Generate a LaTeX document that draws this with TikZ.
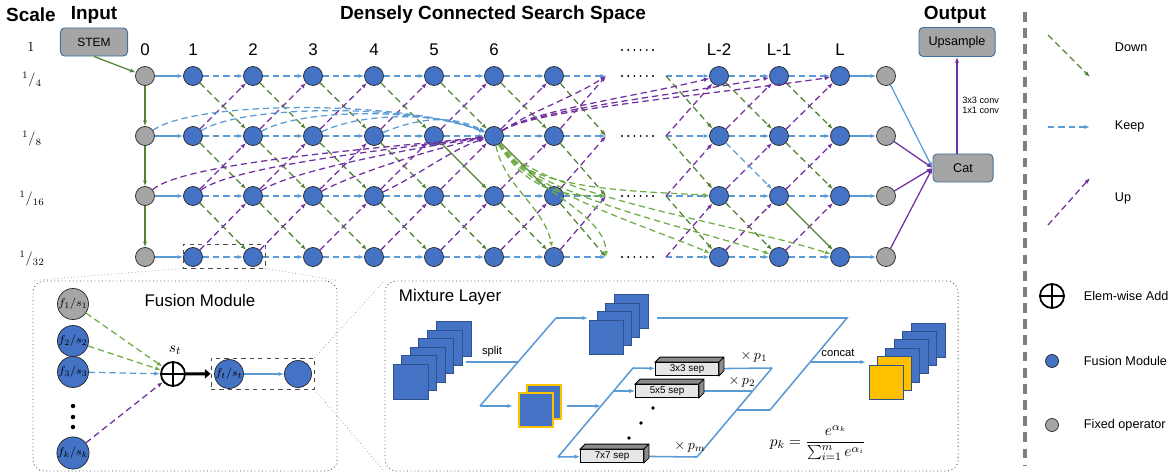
\documentclass[tikz,border=0pt]{standalone}
\usepackage{fontspec}
\setmainfont{Liberation Sans}
\usetikzlibrary{arrows.meta}

\definecolor{fmblue}{HTML}{4472C4}
\definecolor{fmedge}{HTML}{2F528F}
\definecolor{fxgray}{HTML}{A5A5A5}
\definecolor{kblue}{HTML}{5B9BD5}
\definecolor{dgreen}{HTML}{548235}
\definecolor{lgreen}{HTML}{70AD47}
\definecolor{upurple}{HTML}{7030A0}
\definecolor{fyellow}{HTML}{FFC000}
\definecolor{boxedge}{HTML}{41719C}
\definecolor{sepgray}{HTML}{E7E6E6}

\tikzset{
  fm/.style={circle, draw=black!85, line width=0.5pt, fill=fmblue, minimum size=0.475cm, inner sep=0pt},
  fx/.style={fm, fill=fxgray},
  fbig/.style={minimum size=0.675cm, font=\fontsize{8}{9}\selectfont},
  link/.style={->, line width=0.9pt},
  keep/.style={link, kblue, dash pattern=on 4.5pt off 2.8pt},
  down/.style={link, dgreen, dash pattern=on 4.5pt off 2.8pt},
  up/.style={link, upurple, dash pattern=on 4.5pt off 2.8pt},
  dense/.style={link, lgreen, dash pattern=on 4.5pt off 2.8pt},
  opbox/.style={rectangle, rounded corners=3pt, draw=boxedge, line width=0.7pt, fill=fxgray, font=\fontsize{9}{10}\selectfont},
  title/.style={font=\fontsize{13.5}{15}\selectfont\bfseries},
  collabel/.style={font=\fontsize{12}{13}\selectfont},
  scalelabel/.style={font=\fontsize{10}{11}\selectfont},
  legendtext/.style={anchor=west, font=\fontsize{9}{10}\selectfont},
  smalltext/.style={text=black, font=\fontsize{8}{9}\selectfont},
  panel/.style={draw=black!70, dotted, rounded corners=8pt, line width=0.6pt},
  zoombox/.style={draw=black!70, dashed, line width=0.6pt},
  oplus/.style={circle, draw, line width=1.3pt, minimum size=0.6cm, inner sep=0pt,
    path picture={\draw[line width=1.3pt] (path picture bounding box.north) -- (path picture bounding box.south)
      (path picture bounding box.west) -- (path picture bounding box.east);}},
  fmap/.style={draw=fmedge, fill=fmblue, line width=0.6pt},
  sepbox/.style={draw, fill=sepgray, line width=0.6pt, minimum width=1.575cm, minimum height=0.325cm, inner sep=0pt, font=\fontsize{7}{8}\selectfont},
  mline/.style={kblue, line width=1.1pt},
  >={Latex[length=4pt,width=3pt]}
}

\begin{document}
\begin{tikzpicture}[x=0.025cm, y=-0.025cm]
\useasboundingbox (0,0) rectangle (1170,473);

% titles
\node[title] (tscale) at (31,15) {Scale};
\node[title] (tinput) at (94,15) {Input};
\node[title] (tspace) at (493,15) {Densely Connected Search Space};
\node[title] (toutput) at (955,15) {Output};

% scale column
\node[scalelabel] (sc0) at (31,47) {$1$};
\node[scalelabel] (sc1) at (32,80) {$^{1}/_{4}$};
\node[scalelabel] (sc2) at (32,139) {$^{1}/_{8}$};
\node[scalelabel] (sc3) at (32,199) {$^{1}/_{16}$};
\node[scalelabel] (sc4) at (32,259) {$^{1}/_{32}$};

\node[opbox, minimum width=1.675cm, minimum height=0.7cm, font=\fontsize{8.5}{9}\selectfont] (stem) at (94,42) {STEM};

% layer numbers
\foreach \c/\x/\t in {0/145/0,1/193/1,2/253/2,3/313/3,4/374/4,5/434/5,6/494/6,8/719/L-2,9/779/L-1,10/840/L}
  \node[collabel] (lab\c) at (\x,50) {\t};

% cells of the search space
\foreach \r/\y in {0/76,1/136,2/196,3/257}{
  \node[fx] (g-\r) at (145,\y) {};
  \node[fx] (o-\r) at (886,\y) {};
  \coordinate (nd-\r) at (606,\y);
  \coordinate (ne-\r) at (666,\y);
  \foreach \c/\x in {1/193,2/253,3/313,4/374,5/434,6/494,7/554,8/719,9/779,10/840}
    \node[fm] (n\c-\r) at (\x,\y) {};
}
\foreach \y in {50,76,136,196,257}
  \foreach \k in {0,...,5} \fill ({622+6.2*\k},\y) circle (0.75pt);

% keep / down / up
\foreach \a/\b in {1/2,2/3,3/4,4/5,5/6,6/7,7/d,e/8,8/9,9/10}
  \foreach \r in {0,...,3} \draw[keep] (n\a-\r) -- (n\b-\r);
\foreach \a/\b in {1/2,2/3,3/4,4/5,5/6,6/7,7/d,e/8,8/9,9/10} \draw[down] (n\a-0) -- (n\b-1);
\foreach \a/\b in {1/2,2/3,3/4,4/5,7/d,e/8,9/10} \draw[down] (n\a-1) -- (n\b-2);
\foreach \a/\b in {1/2,2/3,3/4,4/5,5/6,6/7,7/d,e/8,8/9} \draw[down] (n\a-2) -- (n\b-3);
\foreach \a/\b in {1/2,2/3,3/4,4/5,5/6,6/7,7/d,e/8,8/9,9/10}
  \foreach \r/\rr in {0/1,1/2,2/3} \draw[up] (n\a-\rr) -- (n\b-\r);

% sampled path
\draw[link, dgreen] (stem.south) -- (g-0);
\foreach \r/\rr in {0/1,1/2,2/3} \draw[link, dgreen] (g-\r) -- (g-\rr);
\foreach \r in {0,...,3}{
  \draw[link, kblue] (g-\r) -- (n1-\r);
  \draw[link, kblue] (n10-\r) -- (o-\r);
}
\draw[link, dgreen] (n5-1) -- (n6-2);
\draw[link, dgreen] (n6-1) -- (n7-2);
\draw[link, dgreen] (n9-2) -- (n10-3);
\draw[keep] (n8-1) -- (n9-2);

% dense links of cell 6
\foreach \s/\h/\k in {g-1/36/90,n1-1/32/80,n2-1/28/70,n3-1/24/55,n4-1/20/40}
  \draw[keep] (\s) .. controls +(50,-\h) and +(-\k,-\h) .. (n6-1);
\foreach \s/\h/\k in {g-2/34/110,n1-2/30/95,n2-2/26/80,n3-2/22/60,n4-2/18/40}
  \draw[up] (\s) .. controls +(40,-\h) and +(-\k,12) .. (n6-1);
\foreach \t/\k in {nd-0/30,n8-0/80,n9-0/110,n10-0/140}
  \draw[up] (n6-1) .. controls +(40,-26) and +(-\k,20) .. (\t);
\draw[dense] (n6-1) .. controls +(10,50) and +(-10,-50) .. (n7-3);
\draw[dense] (n6-1) .. controls +(25,45) and +(0,-45) .. (nd-3);
\draw[dense] (n6-1) .. controls +(30,50) and +(-50,0) .. (nd-2);
\draw[dense] (n6-1) .. controls +(30,55) and +(-80,-5) .. (n8-2);
\draw[dense] (n6-1) .. controls +(35,55) and +(-70,-30) .. (n8-3);
\draw[dense] (n6-1) .. controls +(40,60) and +(-90,-30) .. (n9-3);
\draw[dense] (n6-1) .. controls +(45,60) and +(-110,-35) .. (n10-3);

% output
\node[opbox, minimum width=1.5cm, minimum height=0.7cm] (cat) at (963,168) {Cat};
\node[opbox, minimum width=1.9cm, minimum height=0.725cm] (ups) at (957,42) {Upsample};
\draw[link, kblue] (o-0) -- (cat.west);
\foreach \r in {1,2,3} \draw[link, upurple] (o-\r) -- (cat.west);
\draw[link, upurple] (cat.north -| ups.south) -- node[right, align=left, text=black, font=\fontsize{6.5}{7.5}\selectfont] {3x3 conv\\1x1 conv} (ups.south);

% fusion module
\node[zoombox, minimum width=2.05cm, minimum height=0.6cm] (zbox) at (224,256) {};
\node[panel, minimum width=7.6cm, minimum height=4.75cm] (fmbox) at (185,376) {};
\node[panel, minimum width=14.325cm, minimum height=4.75cm] (mlbox) at (671.5,376) {};
\draw[dotted, black!60] (zbox.south west) -- (fmbox.north west) (zbox.south east) -- (fmbox.north east);
\node[font=\fontsize{12}{14}\selectfont] (fmtitle) at (200,300) {Fusion Module};
\node[fx, fbig] (fa) at (73,304) {$f_1/s_1$};
\node[fm, fbig] (fb) at (73,341) {$f_2/s_2$};
\node[fm, fbig] (fc) at (73,372) {$f_3/s_3$};
\node[fm, fbig] (fk) at (73,453) {$f_k/s_k$};
\foreach \y in {406,417,427} \fill (73,\y) circle (1.6pt);
\node[oplus] (add) at (173,374) {};
\node[font=\fontsize{11}{12}\selectfont] (st) at (175,350) {$s_t$};
\node[zoombox, minimum width=2.575cm, minimum height=0.775cm] (fbox) at (262.5,373.5) {};
\node[fm, fbig] (ft) at (229,374) {$f_t/s_t$};
\node[fm, fbig] (fo) at (298,374) {};
\draw[dense] (fa) -- (add);
\draw[dense] (fb) -- (add);
\draw[keep] (fc) -- (add);
\draw[up] (fk) -- (add);
\draw[line width=2.2pt, -{Triangle[length=4pt,width=6.5pt]}] (add) -- (fbox);
\draw[link, kblue] (ft) -- (fo);
\draw[dotted, black!60] (fbox.north east) -- (mlbox.north west) (fbox.south east) -- (mlbox.south west);

% mixture layer
\node[anchor=west, font=\fontsize{12}{14}\selectfont] (mltitle) at (394,297) {Mixture Layer};
\foreach \k in {5,...,0} \draw[fmap] ({393+8.6*\k},{364-8.5*\k}) rectangle +(35,35);
\foreach \k in {3,...,0} \draw[fmap] ({589+8.4*\k},{320-8.4*\k}) rectangle +(34,34);
\foreach \k in {1,0} \draw[fmap, draw=fyellow, line width=1pt] ({519+8*\k},{393-8*\k}) rectangle +(34,34);
\foreach \k in {5,...,2} \draw[fmap] ({869+8.4*\k},{365-8.4*\k}) rectangle +(34,34);
\foreach \k in {1,0} \draw[fmap, fill=fyellow] ({869+8.4*\k},{365-8.4*\k}) rectangle +(34,34);

\coordinate (sp0) at (466,362); \coordinate (sp1) at (518,362);
\coordinate (la) at (556,318); \coordinate (lb) at (480,406);
\coordinate (ta) at (588,318); \coordinate (tb) at (513,406);
\coordinate (ua) at (657,318); \coordinate (ub) at (847,318);
\coordinate (uc) at (770,410); \coordinate (ud) at (737,410);
\coordinate (cc0) at (810,362); \coordinate (cc1) at (866,362);
\coordinate (sm0) at (567,406); \coordinate (sm1) at (601,406);
\coordinate (ia) at (633,368); \coordinate (ib) at (614,391); \coordinate (ic) at (558,457);
\coordinate (oa) at (772,368); \coordinate (ob) at (752,391); \coordinate (oc) at (697,457);

\node[sepbox] (s3) at (687,369) {3x3 sep};
\node[sepbox] (s5) at (667,391) {5x5 sep};
\node[sepbox] (s7) at (612,456) {7x7 sep};

\draw[mline] (sp0) -- node[above, smalltext] {split} (sp1);
\draw[mline] (la) -- (lb);
\draw[mline, ->] (la) -- (ta);
\draw[mline, ->] (lb) -- (tb);
\draw[mline] (ua) -- (ub) -- (uc) -- (ud);
\draw[mline, ->] (cc0) -- node[above, smalltext] {concat} (cc1);
\draw[mline, ->] (sm0) -- (sm1);
\draw[mline] (ia) -- (ic);
\draw[mline, ->] (ia) -- (s3);
\draw[mline, ->] (ib) -- (s5);
\draw[mline, ->] (ic) -- (s7);
\draw[mline] (oa) -- (oc);
\draw[mline] (s3) -- (oa);
\draw[mline] (s5) -- (ob);
\draw[mline] (s7) -- (oc);
\foreach \s in {s3,s5,s7}
  \draw[fill=black!45, line width=0.6pt] (\s.north west) -- ++(5,-5) -- ([shift={(5,-5)}]\s.north east)
    -- ([shift={(5,-5)}]\s.south east) -- (\s.south east) -- (\s.north east) -- cycle
    (\s.north east) -- ++(5,-5);
\foreach \x/\y in {653/408,641/423,629/438} \fill (\x,\y) circle (1.4pt);
\node[font=\fontsize{10}{11}\selectfont] (p1) at (754,357) {$\times\, p_1$};
\node[font=\fontsize{10}{11}\selectfont] (p2) at (742,382) {$\times\, p_2$};
\node[font=\fontsize{10}{11}\selectfont] (pm) at (690,447) {$\times\, p_m$};
\node[font=\fontsize{11}{13}\selectfont] (pk) at (818,443) {$\displaystyle p_k=\frac{e^{\alpha_k}}{\sum_{i=1}^{m}e^{\alpha_i}}$};

% legend
\draw[black!50, line width=2.2pt, dash pattern=on 7pt off 4.5pt] (1025,12) -- (1025,465);
\coordinate (ld0) at (1048,35); \coordinate (ld1) at (1090,77);
\coordinate (lk0) at (1048,127); \coordinate (lk1) at (1090,127);
\coordinate (lu0) at (1048,225); \coordinate (lu1) at (1090,178);
\draw[down] (ld0) -- (ld1);
\draw[keep] (lk0) -- (lk1);
\draw[up] (lu0) -- (lu1);
\node[legendtext] (tdown) at (1110,47) {Down};
\node[legendtext] (tkeep) at (1110,126) {Keep};
\node[legendtext] (tup) at (1110,198) {Up};
\node[oplus] (ladd) at (1052,296) {};
\node[legendtext] (tadd) at (1079,296) {Elem-wise Add};
\node[fm, minimum size=0.325cm] (lfm) at (1052,361) {};
\node[legendtext] (tfm) at (1079,361) {Fusion Module};
\node[fx, minimum size=0.325cm] (lfx) at (1052,425) {};
\node[legendtext] (tfx) at (1079,425) {Fixed operator};
\end{tikzpicture}
\end{document}
